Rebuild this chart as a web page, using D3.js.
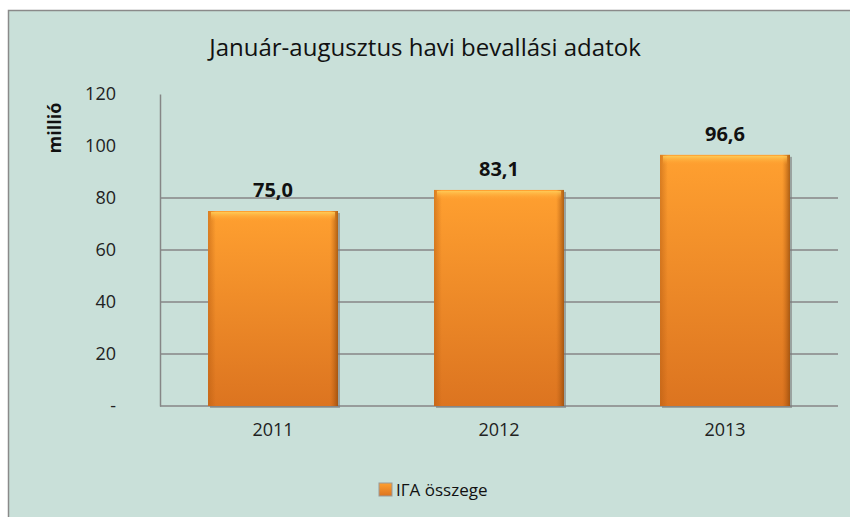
<!DOCTYPE html>
<html>
<head>
<meta charset="utf-8">
<script src="https://cdn.jsdelivr.net/npm/d3@7"></script>
<style>
  body { margin: 0; background: #fff; }
  text { font-family: "Open Sans", "DejaVu Sans", sans-serif; }
</style>
</head>
<body>
<div class="canvas"></div>
<script>
const years = ['2011', '2012', '2013'];
const values = [75.0, 83.1, 96.6];
const yTicks = [0, 20, 40, 60, 80, 100, 120];
const gridTicks = [20, 40, 60, 80];
const seriesName = 'IГA összege';

const width = 850, height = 517;
const svg = d3.select('.canvas')
    .append('svg')
    .attr('width', width)
    .attr('height', height);

const defs = svg.append('defs');
const grad = defs.append('linearGradient')
    .attr('id', 'barGrad')
    .attr('x1', 0).attr('y1', 0).attr('x2', 0).attr('y2', 1);
grad.append('stop').attr('offset', '0%').attr('stop-color', '#ffa030');
grad.append('stop').attr('offset', '100%').attr('stop-color', '#dc7420');

const sideGrad = defs.append('linearGradient')
    .attr('id', 'sideGrad')
    .attr('x1', 0).attr('y1', 0).attr('x2', 1).attr('y2', 0);
sideGrad.append('stop').attr('offset', '0%').attr('stop-color', '#b35a10').attr('stop-opacity', 0.5);
sideGrad.append('stop').attr('offset', '6%').attr('stop-color', '#b35a10').attr('stop-opacity', 0);
sideGrad.append('stop').attr('offset', '94%').attr('stop-color', '#b35a10').attr('stop-opacity', 0);
sideGrad.append('stop').attr('offset', '100%').attr('stop-color', '#8a4408').attr('stop-opacity', 0.7);

const topGrad = defs.append('linearGradient')
    .attr('id', 'topGrad')
    .attr('x1', 0).attr('y1', 0).attr('x2', 0).attr('y2', 1);
topGrad.append('stop').attr('offset', '0%').attr('stop-color', '#ffcf5a').attr('stop-opacity', 0.9);
topGrad.append('stop').attr('offset', '100%').attr('stop-color', '#ffa030').attr('stop-opacity', 0);

// chart area frame
svg.append('rect')
    .attr('x', 8.5).attr('y', 10.5)
    .attr('width', 845).attr('height', 512)
    .attr('fill', '#c9e0d9')
    .attr('stroke', '#8a8a8a')
    .attr('stroke-width', 1.5);

svg.append('text')
    .attr('x', 425).attr('y', 56)
    .attr('text-anchor', 'middle')
    .style('font-size', '24px')
    .attr('fill', '#111')
    .text('Január-augusztus havi bevallási adatok');

const plotLeft = 160, plotRight = 838, plotTop = 94, plotBottom = 406;

const x = d3.scaleBand()
    .domain(years)
    .range([plotLeft, plotRight])
    .paddingInner(0.425)
    .paddingOuter(0.2125);

const y = d3.scaleLinear()
    .domain([0, 120])
    .range([plotBottom, plotTop]);

// gridlines
svg.append('g')
    .selectAll('line')
    .data(gridTicks)
    .enter()
    .append('line')
    .attr('x1', plotLeft).attr('x2', plotRight)
    .attr('y1', d => y(d)).attr('y2', d => y(d))
    .attr('stroke', '#868686')
    .attr('stroke-width', 1.5);

// y axis
const yAxis = svg.append('g')
    .attr('transform', `translate(${plotLeft}, 0)`)
    .call(d3.axisLeft(y).tickValues(yTicks).tickSize(0).tickPadding(44)
        .tickFormat(d => d === 0 ? '-' : d));
yAxis.select('.domain').attr('stroke', '#868686').attr('stroke-width', 1.5);
yAxis.selectAll('text').style('font-size', '18px').attr('fill', '#222');

// x axis
const xAxis = svg.append('g')
    .attr('transform', `translate(0, ${plotBottom})`)
    .call(d3.axisBottom(x).tickSize(0).tickPadding(17));
xAxis.select('.domain').attr('d', `M${plotLeft},0H${plotRight}`).attr('stroke', '#868686').attr('stroke-width', 1.5);
xAxis.selectAll('text').style('font-size', '18px').attr('fill', '#222');

svg.append('text')
    .attr('transform', `translate(61, 128) rotate(-90)`)
    .attr('text-anchor', 'middle')
    .style('font-size', '18px')
    .style('font-weight', 'bold')
    .attr('fill', '#111')
    .text('millió');

// bars
const bars = svg.append('g')
    .selectAll('g')
    .data(years.map((yr, i) => ({ yr, v: values[i] })))
    .enter()
    .append('g');

bars.append('rect')
    .attr('x', d => x(d.yr) + 2)
    .attr('y', d => y(d.v) + 2)
    .attr('width', x.bandwidth())
    .attr('height', d => plotBottom - y(d.v))
    .attr('fill', '#7a7a7a')
    .attr('opacity', 0.6);

bars.append('rect')
    .attr('x', d => x(d.yr))
    .attr('y', d => y(d.v))
    .attr('width', x.bandwidth())
    .attr('height', d => plotBottom - y(d.v))
    .attr('fill', 'url(#barGrad)');

bars.append('rect')
    .attr('x', d => x(d.yr))
    .attr('y', d => y(d.v))
    .attr('width', x.bandwidth())
    .attr('height', d => plotBottom - y(d.v))
    .attr('fill', 'url(#sideGrad)');

bars.append('rect')
    .attr('x', d => x(d.yr) + 3)
    .attr('y', d => y(d.v) + 1)
    .attr('width', x.bandwidth() - 6)
    .attr('height', 9)
    .attr('fill', 'url(#topGrad)');

bars.append('text')
    .attr('x', d => x(d.yr) + x.bandwidth() / 2)
    .attr('y', d => y(d.v) - 14)
    .attr('text-anchor', 'middle')
    .style('font-size', '20px')
    .style('font-weight', 'bold')
    .attr('fill', '#111')
    .text(d => d3.format('.1f')(d.v).replace('.', ','));

// legend
const legend = svg.append('g').attr('transform', 'translate(379, 483)');
legend.append('rect')
    .attr('x', 0).attr('y', 0).attr('width', 13).attr('height', 13)
    .attr('fill', 'url(#barGrad)')
    .attr('stroke', '#999');
legend.append('text')
    .attr('x', 17).attr('y', 13)
    .style('font-size', '17px')
    .attr('fill', '#111')
    .text(seriesName);
</script>
</body>
</html>
